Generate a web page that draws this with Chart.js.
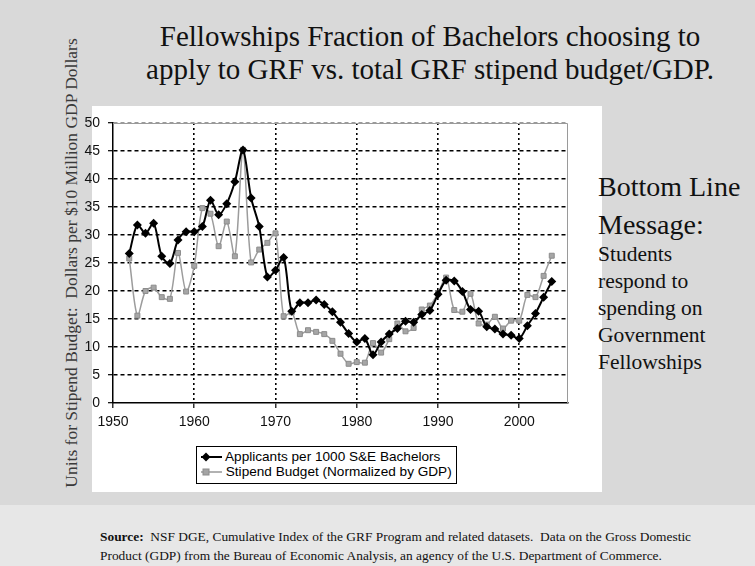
<!DOCTYPE html>
<html>
<head>
<meta charset="utf-8">
<script src="https://cdn.jsdelivr.net/npm/chart.js@4.4.1/dist/chart.umd.min.js"></script>
<style>
  html, body { margin: 0; padding: 0; }
  body { width: 755px; height: 566px; position: relative; overflow: hidden; background: #d9d9d9; font-family: "Liberation Serif", "Times New Roman", serif; }
  .band { position: absolute; left: 0; top: 505px; width: 755px; height: 61px; background: #e7e7e7; }
  .panel { position: absolute; left: 92px; top: 106px; width: 510px; height: 386px; background: #ffffff; }
  #wrap { position: absolute; left: 0; top: 0; width: 755px; height: 566px; }
  .title { position: absolute; left: 110px; width: 640px; top: 20px; text-align: center; font-size: 29px; line-height: 33px; color: #111; }
  .ytitle { position: absolute; left: 71px; top: 263px; transform: translate(-50%, -50%) rotate(-90deg); white-space: nowrap; font-size: 17.5px; color: #3a3a3a; }
  .msg { position: absolute; left: 598px; top: 168px; color: #111; white-space: nowrap; }
  .msg .big { font-size: 28px; line-height: 38px; }
  .msg .small { font-size: 21.5px; line-height: 27px; margin-top: -3px; }
  .source { position: absolute; left: 100px; top: 527px; font-size: 13.4px; line-height: 19px; color: #111; white-space: nowrap; }
  .legend { position: absolute; left: 196px; top: 446px; width: 259px; height: 36px; border: 1px solid #000; background: #fff; font-family: "Liberation Sans", Arial, sans-serif; font-size: 13.6px; color: #000; }
  .legend .row { position: absolute; left: 3px; height: 16px; line-height: 16px; white-space: nowrap; }
  .legend svg { vertical-align: top; }
</style>
</head>
<body>
<div class="band"></div>
<div class="panel"></div>
<div class="title">Fellowships Fraction of Bachelors choosing to<br>apply to GRF vs. total GRF stipend budget/GDP.</div>
<div class="ytitle">Units for Stipend Budget:&nbsp; Dollars per $10 Million GDP Dollars</div>
<div class="msg"><div class="big">Bottom Line<br>Message:</div><div class="small">Students<br>respond to<br>spending on<br>Government<br>Fellowships</div></div>
<div class="source"><b>Source:</b>&nbsp; NSF DGE, Cumulative Index of the GRF Program and related datasets.&nbsp; Data on the Gross Domestic<br>Product (GDP) from the Bureau of Economic Analysis, an agency of the U.S. Department of Commerce.</div>
<div id="wrap"><canvas id="chart" width="755" height="566"></canvas></div>
<div class="legend">
  <div class="row" style="top:2px"><svg width="22" height="16"><line x1="1" y1="8" x2="22" y2="8" stroke="#000" stroke-width="2"/><polygon points="6,3.5 10.5,8 6,12.5 1.5,8" fill="#000"/></svg> Applicants per 1000 S&amp;E Bachelors</div>
  <div class="row" style="top:17px"><svg width="22" height="16"><line x1="1" y1="8" x2="22" y2="8" stroke="#999" stroke-width="1.5"/><rect x="3" y="5" width="6" height="6" fill="#a4a4a4" stroke="#8c8c8c"/></svg> Stipend Budget (Normalized by GDP)</div>
</div>
<script>
// Years covered by both series
const years = [
  1952, 1953, 1954, 1955, 1956, 1957, 1958, 1959, 1960, 1961,
  1962, 1963, 1964, 1965, 1966, 1967, 1968, 1969, 1970, 1971,
  1972, 1973, 1974, 1975, 1976, 1977, 1978, 1979, 1980, 1981,
  1982, 1983, 1984, 1985, 1986, 1987, 1988, 1989, 1990, 1991,
  1992, 1993, 1994, 1995, 1996, 1997, 1998, 1999, 2000, 2001,
  2002, 2003, 2004
];

// GRF applicants per 1000 S&E bachelors
const applicants = [
  26.7, 31.8, 30.3, 32.1, 26.2, 24.9, 29.1, 30.6, 30.6, 31.5,
  36.2, 33.6, 35.6, 39.5, 45.2, 36.6, 31.5, 22.5, 23.7, 26.0,
  16.4, 17.9, 17.9, 18.4, 17.6, 16.3, 14.4, 12.4, 10.9, 11.5,
  8.6, 10.9, 12.3, 13.3, 14.6, 14.4, 15.8, 16.5, 19.4, 21.9,
  21.8, 19.9, 16.7, 16.4, 13.6, 13.2, 12.3, 12.1, 11.5, 13.8,
  16.0, 18.9, 21.7
];

// Total GRF stipend budget, dollars per $10 million GDP
const stipend = [
  25.8, 15.6, 20.0, 20.6, 18.9, 18.6, 26.8, 19.9, 24.5, 34.8,
  33.8, 28.0, 32.4, 26.2, 45.2, 25.1, 27.4, 28.6, 30.3, 15.5,
  16.2, 12.3, 13.0, 12.7, 12.3, 11.1, 8.8, 7.0, 7.3, 7.2,
  10.7, 9.0, 11.4, 14.2, 12.8, 13.4, 16.7, 17.4, 19.6, 22.4,
  16.6, 16.3, 19.5, 14.2, 14.0, 15.4, 13.3, 14.7, 14.7, 19.3,
  18.9, 22.7, 26.3
];

const seriesNames = ['Applicants per 1000 S&E Bachelors', 'Stipend Budget (Normalized by GDP)'];

const toPoints = vals => years.map((yr, i) => ({ x: yr, y: vals[i] }));
const tickFont = { family: '"Liberation Sans", Arial, sans-serif', size: 14 };

// Thin frame on the top and right of the plot area
const frame = {
  id: 'frame',
  beforeDatasetsDraw(chart) {
    const { ctx, chartArea: a } = chart;
    ctx.save();
    ctx.strokeStyle = '#9a9a9a';
    ctx.lineWidth = 1;
    ctx.beginPath();
    ctx.moveTo(a.left, a.top + 0.5);
    ctx.lineTo(a.right - 0.5, a.top + 0.5);
    ctx.lineTo(a.right - 0.5, a.bottom);
    ctx.stroke();
    ctx.restore();
  }
};

new Chart(document.getElementById('chart'), {
  type: 'line',
  data: {
    datasets: [
      {
        label: seriesNames[0],
        data: toPoints(applicants),
        borderColor: '#000',
        backgroundColor: '#000',
        borderWidth: 2,
        pointStyle: 'rectRot',
        pointRadius: 4.5,
        pointBorderWidth: 0,
        tension: 0.3,
        order: 1
      },
      {
        label: seriesNames[1],
        data: toPoints(stipend),
        borderColor: '#9c9c9c',
        backgroundColor: '#a6a6a6',
        pointBorderColor: '#8c8c8c',
        borderWidth: 1.5,
        pointStyle: 'rect',
        pointRadius: 3.5,
        pointBorderWidth: 1,
        tension: 0.3,
        order: 2
      }
    ]
  },
  options: {
    responsive: false,
    animation: false,
    layout: { padding: { left: 0, top: 123, right: 187, bottom: 133 } },
    plugins: { legend: { display: false }, tooltip: { enabled: false } },
    scales: {
      x: {
        type: 'linear',
        min: 1950,
        max: 2006,
        afterFit: s => { s.height = 30; },
        ticks: { stepSize: 10, includeBounds: false, color: '#111', font: tickFont, padding: 6, maxRotation: 0,
                 callback: v => String(v) },
        grid: {
          color: c => (c.tick && c.tick.value === 1950) ? 'rgba(0,0,0,0)' : '#000',
          lineWidth: 1.6,
          drawTicks: true,
          tickLength: 5,
          tickColor: '#000',
          tickWidth: 1.2
        },
        border: { display: true, color: '#000', width: 1.5, dash: [2, 3] }
      },
      y: {
        min: 0,
        max: 50,
        afterFit: s => { s.width = 113; },
        ticks: { stepSize: 5, color: '#111', font: tickFont, padding: 8 },
        grid: {
          color: c => {
            if (!c.tick) return '#000';
            if (c.tick.value === 0) return 'rgba(0,0,0,0)';
            if (c.tick.value === 50) return '#9a9a9a';
            return '#000';
          },
          lineWidth: 1.4,
          drawTicks: true,
          tickLength: 5,
          tickColor: '#000',
          tickWidth: 1.2
        },
        border: { display: true, color: '#000', width: 1.5, dash: [4, 3] }
      }
    }
  },
  plugins: [frame]
});
</script>
</body>
</html>
